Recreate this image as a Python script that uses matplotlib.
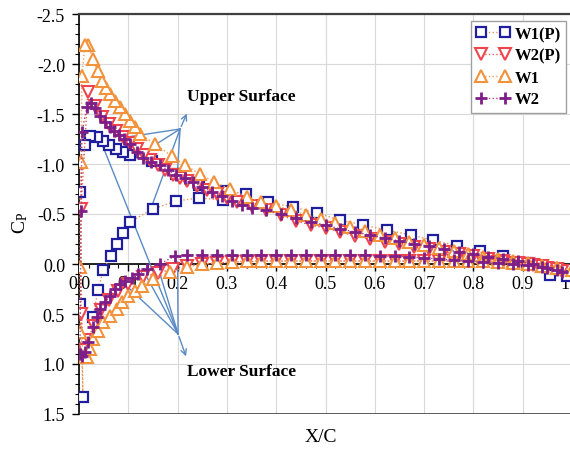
import numpy as np
import matplotlib
matplotlib.use("Agg")
import matplotlib.pyplot as plt
from matplotlib.ticker import MultipleLocator, FormatStrFormatter

# ---- pressure coefficient data (x/c, Cp) ----
# W1(P): upper branch listed from x/c=0.34 back to the leading edge,
# lower branch from the leading edge to the trailing edge
w1p_up_x = [0.338, 0.292, 0.243, 0.196, 0.148, 0.103, 0.089, 0.075, 0.061, 0.049,
            0.036, 0.022, 0.012, 0.002]
w1p_up_cp = [-0.70, -0.73, -0.79, -0.90, -1.03, -1.09, -1.12, -1.15, -1.19, -1.23,
             -1.27, -1.28, -1.19, -0.72]
w1p_lo_x = [0.008, 0.003, 0.028, 0.039, 0.049, 0.065, 0.077, 0.090, 0.103, 0.150,
            0.197, 0.243, 0.292, 0.383, 0.434, 0.483, 0.529, 0.576, 0.624, 0.673,
            0.718, 0.767, 0.813, 0.860, 0.909, 0.955, 0.990]
w1p_lo_cp = [1.33, 0.40, 0.53, 0.26, 0.06, -0.08, -0.20, -0.31, -0.42, -0.55,
             -0.63, -0.66, -0.64, -0.62, -0.57, -0.51, -0.44, -0.39, -0.34, -0.29,
             -0.24, -0.18, -0.13, -0.08, -0.01, 0.11, 0.12]

# W2(P)
w2p_up_x = [0.004, 0.018, 0.032, 0.047, 0.061, 0.075, 0.089, 0.103, 0.117, 0.131,
            0.145, 0.160, 0.175, 0.190, 0.205, 0.220, 0.240, 0.260, 0.280, 0.300,
            0.320, 0.350, 0.380, 0.410, 0.440, 0.470, 0.500, 0.530, 0.560, 0.590,
            0.620, 0.650, 0.680, 0.710, 0.740, 0.770, 0.800, 0.830, 0.860, 0.890,
            0.920, 0.950, 0.980]
w2p_up_cp = [-0.55, -1.72, -1.58, -1.47, -1.40, -1.33, -1.27, -1.21, -1.15, -1.09,
             -1.04, -0.99, -0.94, -0.89, -0.86, -0.83, -0.78, -0.74, -0.70, -0.66,
             -0.62, -0.58, -0.54, -0.49, -0.43, -0.39, -0.36, -0.32, -0.28, -0.25,
             -0.22, -0.20, -0.17, -0.15, -0.12, -0.10, -0.08, -0.05, -0.03, -0.01,
             0.01, 0.04, 0.07]
w2p_lo_x = [0.004, 0.010, 0.020, 0.030, 0.045, 0.060, 0.080, 0.100, 0.130, 0.160,
            0.190, 0.220, 0.250, 0.280, 0.310, 0.340, 0.370, 0.400, 0.430, 0.460,
            0.490, 0.520, 0.550, 0.580, 0.610, 0.640, 0.670, 0.700, 0.730, 0.760,
            0.790, 0.820, 0.850, 0.880, 0.910, 0.940, 0.970]
w2p_lo_cp = [0.50, 0.86, 0.76, 0.62, 0.46, 0.36, 0.27, 0.20, 0.13, 0.09,
             0.05, 0.02, 0.00, -0.01, -0.02, -0.02, -0.03, -0.03, -0.03, -0.03,
             -0.03, -0.03, -0.03, -0.03, -0.03, -0.03, -0.03, -0.03, -0.03, -0.03,
             -0.03, -0.02, -0.02, -0.01, 0.00, 0.02, 0.05]

# W1
w1_up_x = [0.004, 0.006, 0.012, 0.019, 0.028, 0.038, 0.047, 0.055, 0.063, 0.073,
           0.083, 0.093, 0.104, 0.114, 0.124, 0.154, 0.188, 0.215, 0.245, 0.274,
           0.306, 0.341, 0.370, 0.400, 0.430, 0.460, 0.490, 0.520, 0.550, 0.580,
           0.610, 0.640, 0.670, 0.700, 0.730, 0.760, 0.790, 0.820, 0.850, 0.880,
           0.910, 0.940, 0.970, 1.000]
w1_up_cp = [-1.02, -1.88, -2.19, -2.19, -2.05, -1.93, -1.83, -1.76, -1.70, -1.63,
            -1.57, -1.50, -1.43, -1.37, -1.30, -1.20, -1.08, -0.99, -0.90, -0.82,
            -0.75, -0.67, -0.62, -0.58, -0.54, -0.49, -0.45, -0.41, -0.37, -0.33,
            -0.29, -0.26, -0.22, -0.19, -0.16, -0.13, -0.10, -0.07, -0.05, -0.03,
            -0.01, 0.02, 0.04, 0.06]
w1_lo_x = [0.002, 0.003, 0.010, 0.017, 0.022, 0.029, 0.038, 0.049, 0.063, 0.077,
           0.087, 0.100, 0.114, 0.128, 0.150, 0.185, 0.220, 0.250, 0.280, 0.310,
           0.340, 0.370, 0.400, 0.430, 0.460, 0.490, 0.520, 0.550, 0.580, 0.610,
           0.640, 0.670, 0.700, 0.730, 0.760, 0.790, 0.820, 0.850, 0.880, 0.910,
           0.940, 0.970]
w1_lo_cp = [0.03, 0.68, 0.93, 0.93, 0.85, 0.75, 0.67, 0.58, 0.52, 0.45,
            0.38, 0.32, 0.27, 0.22, 0.15, 0.08, 0.03, 0.00, -0.01, -0.02,
            -0.03, -0.03, -0.03, -0.03, -0.03, -0.03, -0.03, -0.03, -0.03, -0.03,
            -0.03, -0.03, -0.03, -0.03, -0.03, -0.03, -0.03, -0.02, -0.01, 0.00,
            0.02, 0.04]

# W2
w2_up_x = [0.004, 0.006, 0.016, 0.024, 0.032, 0.042, 0.052, 0.062, 0.072, 0.082,
           0.092, 0.104, 0.117, 0.130, 0.147, 0.164, 0.180, 0.197, 0.214, 0.231,
           0.250, 0.270, 0.290, 0.310, 0.330, 0.350, 0.380, 0.410, 0.440, 0.470,
           0.500, 0.530, 0.560, 0.590, 0.620, 0.650, 0.680, 0.710, 0.740, 0.770,
           0.800, 0.830, 0.860, 0.890, 0.920, 0.950, 0.980]
w2_up_cp = [-0.53, -1.32, -1.57, -1.61, -1.56, -1.48, -1.42, -1.37, -1.33, -1.29,
            -1.25, -1.20, -1.12, -1.06, -1.02, -0.99, -0.94, -0.89, -0.86, -0.82,
            -0.77, -0.72, -0.68, -0.63, -0.59, -0.56, -0.54, -0.50, -0.46, -0.42,
            -0.39, -0.35, -0.32, -0.29, -0.26, -0.23, -0.20, -0.18, -0.15, -0.12,
            -0.10, -0.07, -0.05, -0.03, 0.00, 0.04, 0.08]
w2_lo_x = [0.002, 0.006, 0.012, 0.018, 0.028, 0.037, 0.043, 0.053, 0.063, 0.073,
           0.083, 0.093, 0.108, 0.120, 0.138, 0.164, 0.195, 0.220, 0.250, 0.280,
           0.310, 0.340, 0.370, 0.400, 0.430, 0.460, 0.490, 0.520, 0.550, 0.580,
           0.610, 0.640, 0.670, 0.700, 0.730, 0.760, 0.790, 0.820, 0.850, 0.880,
           0.910, 0.940, 0.970]
w2_lo_cp = [0.90, 0.92, 0.88, 0.78, 0.63, 0.53, 0.45, 0.38, 0.32, 0.25,
            0.20, 0.17, 0.14, 0.10, 0.05, 0.00, -0.08, -0.09, -0.09, -0.09,
            -0.09, -0.09, -0.09, -0.09, -0.09, -0.09, -0.09, -0.09, -0.09, -0.09,
            -0.08, -0.08, -0.07, -0.06, -0.05, -0.04, -0.03, -0.02, -0.01, 0.00,
            0.01, 0.03, 0.06]

series_names = ["W1(P)", "W2(P)", "W1", "W2"]

# ---- style ----
plt.rcParams['font.family'] = ['Liberation Serif', 'DejaVu Serif']
plt.rcParams['mathtext.default'] = 'regular'

fig = plt.figure(figsize=(5.7, 4.52), dpi=100)
ax = fig.add_axes([79 / 570, 37 / 452, 493 / 570, 400 / 452])

def trace(up_x, up_cp, lo_x, lo_cp):
    # walk the upper surface towards the nose, then the lower surface back
    return up_x[::-1] + lo_x, up_cp[::-1] + lo_cp

w1p_x, w1p_cp = w1p_up_x + w1p_lo_x, w1p_up_cp + w1p_lo_cp
w2p_x, w2p_cp = trace(w2p_up_x, w2p_up_cp, w2p_lo_x, w2p_lo_cp)
w1_x, w1_cp = trace(w1_up_x, w1_up_cp, w1_lo_x, w1_lo_cp)
w2_x, w2_cp = trace(w2_up_x, w2_up_cp, w2_lo_x, w2_lo_cp)

ax.plot(w1p_x, w1p_cp, ls=':', lw=1.0, color='#E8955A', marker='s', ms=6.5,
        mec='#1E1E9E', mfc='white', mew=1.6, label=series_names[0], zorder=3)
ax.plot(w2p_x, w2p_cp, ls=':', lw=1.0, color='#EE5A5A', marker='v', ms=8.5,
        mec='#F0444C', mfc='white', mew=1.5, label=series_names[1], zorder=3)
ax.plot(w1_x, w1_cp, ls=':', lw=1.0, color='#F0A060', marker='^', ms=9,
        mec='#F2923A', mfc='white', mew=1.5, label=series_names[2], zorder=3)
ax.plot(w2_x, w2_cp, ls=':', lw=1.0, color='#B04080', marker='+', ms=9,
        mec='#7E1E88', mew=2.0, label=series_names[3], zorder=3)

# ---- axes ----
ax.set_xlim(0, 1.0)
ax.set_ylim(1.5, -2.5)
ax.xaxis.set_major_locator(MultipleLocator(0.1))
ax.xaxis.set_minor_locator(MultipleLocator(0.02))
ax.yaxis.set_major_locator(MultipleLocator(0.5))
ax.yaxis.set_minor_locator(MultipleLocator(0.1))
ax.xaxis.set_major_formatter(FormatStrFormatter('%.1f'))
ax.yaxis.set_major_formatter(FormatStrFormatter('%.1f'))

ax.spines['bottom'].set_position(('data', 0))
ax.spines['right'].set_visible(False)
ax.spines['top'].set_color('#404040')
ax.spines['top'].set_linewidth(1.6)
for s in ('left', 'bottom'):
    ax.spines[s].set_color('black')
    ax.spines[s].set_linewidth(1.2)
ax.axhline(1.5, color='#404040', lw=1.2, zorder=2.6)

ax.tick_params(axis='both', which='major', direction='out', length=5,
               width=1.0, labelsize=13, colors='black')
ax.tick_params(axis='both', which='minor', direction='out', length=3, width=0.8)
ax.tick_params(axis='x', which='major', pad=3)
ax.tick_params(axis='y', which='major', pad=5)

ax.grid(True, which='major', color='#D9D9D9', lw=0.8)
ax.set_axisbelow(True)

ax.set_xlabel('X/C', fontsize=14)
ax.xaxis.set_label_coords(0.49, -0.035)
ax.set_ylabel('C$_{P}$', fontsize=14)
ax.yaxis.set_label_coords(-0.10, 0.48)

# ---- surface callouts ----
arrow_color = '#5A8AC4'
upper_hub = (0.205, -1.35)
upper_targets = [(0.085, -1.26), (0.154, -1.19), (0.200, -0.95), (0.144, -0.53)]
lower_hub = (0.201, 0.70)
lower_targets = [(0.049, -1.17), (0.103, 0.25), (0.134, 0.10), (0.160, 0.03),
                 (0.200, -0.02)]

for tx, ty in upper_targets:
    ax.plot([upper_hub[0], tx], [upper_hub[1], ty], color=arrow_color, lw=1.0, zorder=2.8)
for tx, ty in lower_targets:
    ax.plot([lower_hub[0], tx], [lower_hub[1], ty], color=arrow_color, lw=1.0, zorder=2.8)

ax.annotate('', xy=(0.221, -1.53), xytext=upper_hub,
            arrowprops=dict(arrowstyle='->', color=arrow_color, lw=1.0), zorder=2.8)
ax.annotate('', xy=(0.219, 0.95), xytext=lower_hub,
            arrowprops=dict(arrowstyle='->', color=arrow_color, lw=1.0), zorder=2.8)

ax.text(0.219, -1.68, 'Upper Surface', fontsize=12.5, fontweight='bold',
        ha='left', va='center')
ax.text(0.219, 1.07, 'Lower Surface', fontsize=12.5, fontweight='bold',
        ha='left', va='center')

leg = ax.legend(loc='upper right', bbox_to_anchor=(566 / 570, 430 / 452),
                bbox_transform=fig.transFigure, borderaxespad=0, numpoints=2,
                handlelength=2.0, handletextpad=0.3, labelspacing=0.35,
                borderpad=0.3, fancybox=False, framealpha=1,
                prop={'weight': 'bold', 'size': 12})
leg.get_frame().set_edgecolor('#A0A0A0')
leg.get_frame().set_linewidth(1.0)

fig.savefig('out.png', dpi=100)
